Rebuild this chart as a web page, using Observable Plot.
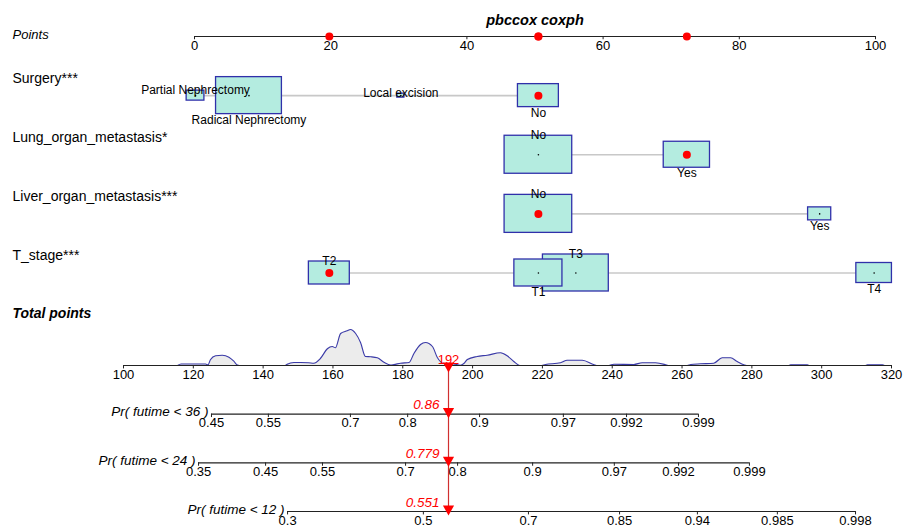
<!DOCTYPE html>
<html><head><meta charset="utf-8">
<script src="https://cdn.jsdelivr.net/npm/d3@7"></script>
<script src="https://cdn.jsdelivr.net/npm/@observablehq/plot@0.6"></script>
<style>
body{margin:0;background:#fff;}
#wrap{position:relative;width:907px;height:527px;overflow:hidden;background:#fff;}
#wrap svg{position:absolute;left:0;top:0;}
</style></head><body><div id="wrap"></div>
<script>
// ---------------- data ----------------
const title = "pbccox coxph";
const pointTicks = [0, 20, 40, 60, 80, 100];
const variables = ["Surgery***", "Lung_organ_metastasis*", "Liver_organ_metastasis***", "T_stage***"];

const surgeryLevels = ["Partial Nephrectomy", "Radical Nephrectomy", "Local excision", "No"];
const surgeryPoints = [0.15, 8.0, 30.3, 50.5];
const surgeryFreq   = [69, 948, 11, 366];

const lungLevels = ["No", "Yes"];
const lungPoints = [50.5, 72.3];
const lungFreq   = [1000, 468];

const liverLevels = ["No", "Yes"];
const liverPoints = [50.5, 91.8];
const liverFreq   = [1000, 117];

const tLevels = ["T1", "T2", "T3", "T4"];
const tPoints = [50.5, 19.8, 56.0, 99.8];
const tFreq   = [505, 366, 948, 277];

const selectedLevels = ["No", "Yes", "No", "T2"];

const totalTicks = [100, 120, 140, 160, 180, 200, 220, 240, 260, 280, 300, 320];
const densityT = [115.5,116.5,123.5,124.2,124.9,126.4,128.3,130.2,131.6,132.6,133.2,
  146.3,146.9,148.8,150.7,153,154.5,156.4,158.4,159.8,160.7,162.2,164.1,165.0,166.5,167.9,169.3,170.8,172.7,174.6,176.5,177.5,179.4,181.8,183.2,185.1,186.5,188.5,189.9,191.8,194.6,196.5,197.5,198.5,201.3,204.2,208.0,209.9,211.8,213.5,
  219.5,220.9,225.2,227.1,231.4,234.8,235.5,
  239,240.5,246.2,248.6,252.4,255.3,256,
  261.5,262.5,265.3,269.1,271.5,273.9,275.8,277.7,278.5,
  290.5,291.1,295.9,296.5,
  312.5,313.1,317.4,318];
const densityH = [0,1.5,1.5,0.7,5.7,9.7,10.3,8.3,4.3,0.5,0,
  0,1.3,3,3,2.8,2.3,7,16.7,19,17.7,32,34.7,36,32,23,9,8.7,7.7,3.3,0.5,1,2.3,3,12,21,23,19,8,2,1.5,0.3,2,6,9,10.3,12.7,9.7,4,0,
  0,1,2.7,5.3,5.3,0.7,0,
  0,1.3,1,2.7,2.7,0.7,0,
  0,1,1.7,2.3,7.7,7.7,4,0.7,0,
  0,0.7,0.7,0,
  0,0.7,0.7,0];

const probLabels = ["Pr( futime < 36 )", "Pr( futime < 24 )", "Pr( futime < 12 )"];
const pr36Labels = ["0.45","0.55","0.7","0.8","0.9","0.97","0.992","0.999"];
const pr36At     = [125.2, 141.5, 165.0, 181.4, 202.0, 226.0, 244.1, 264.7];
const pr24Labels = ["0.35","0.45","0.55","0.7","0.8","0.9","0.97","0.992","0.999"];
const pr24At     = [121.5, 140.7, 157.0, 180.8, 195.7, 217.2, 240.6, 259.0, 279.3];
const pr12Labels = ["0.3","0.5","0.7","0.85","0.94","0.985","0.998"];
const pr12At     = [147.0, 185.9, 216.0, 242.1, 264.4, 287.3, 309.7];

const totalLabel = "192";
const predicted = ["0.86", "0.779", "0.551"];

// ---------------- layout / style ----------------
const W = 907, H = 527;
const FONT = "'Liberation Sans', Arial, Helvetica, sans-serif";
const topX = [194, 875];      // pixel extent of Points axis
const topRows = [36, 272.5];  // pixel y of rows 0..4
const botX = [123, 891];      // pixel extent of Total points axis
const botRows = [365, 511];   // pixel y of rows 0..3
const BOX_FILL = "#b4ece0", BOX_STROKE = "#3030aa";
const RED = "#f00", RED_LINE = "#d03030";

const pxPerPoint = (topX[1] - topX[0]) / 100;
const pxPerRow = (topRows[1] - topRows[0]) / 4;
const boxH = d3.scaleSqrt().domain([0, 1000]).range([0, 38]);
const ASPECT = 1.78;

const vars = [
  {label: variables[0], levels: surgeryLevels, pts: surgeryPoints, freq: surgeryFreq},
  {label: variables[1], levels: lungLevels, pts: lungPoints, freq: lungFreq},
  {label: variables[2], levels: liverLevels, pts: liverPoints, freq: liverFreq},
  {label: variables[3], levels: tLevels, pts: tPoints, freq: tFreq}
];

const boxes = vars.flatMap((v, i) => {
  const row = i + 1;
  const order = d3.sort(d3.range(v.levels.length), j => v.pts[j]);
  return v.levels.map((lev, j) => {
    const h = boxH(v.freq[j]);
    const hw = h * ASPECT / 2 / pxPerPoint, hh = h / 2 / pxPerRow;
    return {row, level: lev, pts: v.pts[j], freq: v.freq[j],
      x1: v.pts[j] - hw, x2: v.pts[j] + hw, y1: row - hh, y2: row + hh,
      above: order.indexOf(j) % 2 === 0, sel: lev === selectedLevels[i]};
  });
}).sort((a, b) => b.freq - a.freq);
const spans = vars.map((v, i) => ({row: i + 1, x1: d3.min(v.pts), x2: d3.max(v.pts)}));
const selectedPts = boxes.filter(d => d.sel).map(d => d.pts);
const totalScore = d3.sum(selectedPts);

// ---------- top plot: points + variables ----------
const p1 = Plot.plot({
  width: W, height: H,
  marginLeft: topX[0], marginRight: W - topX[1], marginTop: 20, marginBottom: 0,
  x: {domain: [0, 100], axis: null},
  y: {domain: [0, 4], range: topRows, axis: null},
  style: `font-family:${FONT};background:white;overflow:visible;color:black;`,
  marks: [
    Plot.text([title], {frameAnchor: "top", lineAnchor: "middle", fontWeight: "bold", fontStyle: "italic", fontSize: 14.5}),
    Plot.text(["Points"], {frameAnchor: "left", y: 0, dx: 12 - topX[0], dy: -2, textAnchor: "start", fontStyle: "italic", fontSize: 13}),
    Plot.text(vars, {frameAnchor: "left", y: (d, i) => i + 1, text: "label", dx: 12 - topX[0], dy: -17, textAnchor: "start", fontSize: 14}),
    Plot.ruleY([0], {x1: 0, x2: 100, stroke: "#222", strokeWidth: 1.2}),
    Plot.ruleX(pointTicks, {x: d => d, y1: 0, y2: 0.055, stroke: "#222"}),
    Plot.text(pointTicks, {x: d => d, y: 0, dy: 9, fontSize: 13}),
    Plot.dot(selectedPts, {x: d => d, y: 0, r: 4, fill: RED}),
    Plot.ruleY(spans, {y: "row", x1: "x1", x2: "x2", stroke: "#c8c8c8", strokeWidth: 1.6}),
    Plot.rect(boxes, {x1: "x1", x2: "x2", y1: "y1", y2: "y2", fill: BOX_FILL, stroke: BOX_STROKE, strokeWidth: 1.3}),
    Plot.dot(boxes.filter(d => !d.sel), {x: "pts", y: "row", r: 0.8, fill: "black"}),
    Plot.dot(boxes.filter(d => d.sel), {x: "pts", y: "row", r: 4, fill: RED}),
    Plot.text(boxes.filter(d => d.above), {x: "pts", y: "y1", text: "level", lineAnchor: "bottom", dy: 3, fontSize: 12}),
    Plot.text(boxes.filter(d => !d.above), {x: "pts", y: "y2", text: "level", lineAnchor: "top", dy: 1, fontSize: 12})
  ]
});

// ---------- bottom plot: total points + probabilities ----------
const dens = densityT.map((t, i) => ({t, h: densityH[i]}));
const hMax = d3.max(densityH);
const DENS_ROWS = 0.74;
const prAxes = [pr36At, pr24At, pr12At].map((at, i) => ({row: i + 1, x1: d3.min(at), x2: d3.max(at), label: probLabels[i]}));
const prTicks = [[pr36Labels, pr36At], [pr24Labels, pr24At], [pr12Labels, pr12At]]
  .flatMap(([labs, at], i) => labs.map((l, j) => ({row: i + 1, x: at[j], label: l})));
const triDown = {
  draw(ctx, size) {
    const s = Math.sqrt(size), w = s * 1.5, h = s * 1.35;
    ctx.moveTo(0, 0); ctx.lineTo(-w / 2, -h); ctx.lineTo(w / 2, -h); ctx.closePath();
  }
};
const markers = [0, 1, 2, 3].map(r => ({row: r}));

const p2 = Plot.plot({
  width: W, height: H,
  marginLeft: botX[0], marginRight: W - botX[1], marginTop: 0, marginBottom: 0,
  x: {domain: [100, 320], axis: null},
  y: {domain: [0, 3], range: botRows, axis: null},
  style: `font-family:${FONT};background:transparent;overflow:visible;color:black;`,
  marks: [
    Plot.text(["Total points"], {frameAnchor: "left", y: -1, dx: 12 - botX[0], dy: -3, textAnchor: "start", fontWeight: "bold", fontStyle: "italic", fontSize: 14}),
    Plot.areaY(dens, {x: "t", y1: 0, y2: d => -d.h / hMax * DENS_ROWS, fill: "#ececec", curve: "monotone-x"}),
    Plot.line(dens, {x: "t", y: d => -d.h / hMax * DENS_ROWS, stroke: "#3a3aa8", strokeWidth: 1.1, curve: "monotone-x"}),
    Plot.ruleY([0], {x1: 100, x2: 320, stroke: "#222", strokeWidth: 1.2}),
    Plot.ruleX(totalTicks, {x: d => d, y1: 0, y2: 0.07, stroke: "#222"}),
    Plot.text(totalTicks, {x: d => d, y: 0, dy: 9, fontSize: 13}),
    Plot.ruleY(prAxes, {y: "row", x1: "x1", x2: "x2", stroke: "#222", strokeWidth: 1.1}),
    Plot.ruleX(prTicks, {x: "x", y1: "row", y2: d => d.row + 0.07, stroke: "#222"}),
    Plot.text(prTicks, {x: "x", y: "row", text: "label", dy: 9, fontSize: 13}),
    Plot.text(prAxes, {x: "x1", y: "row", text: "label", textAnchor: "end", dx: -3, dy: -2, fontStyle: "italic", fontSize: 13.5}),
    Plot.ruleX([totalScore], {x: d => d, y1: 0, y2: 3, stroke: RED_LINE, strokeWidth: 1.2}),
    Plot.dot(markers.slice(1), {x: () => totalScore, y: "row", symbol: triDown, r: 4.2, fill: RED, stroke: "none", dy: 4}),
    Plot.dot(markers.slice(0, 1), {x: () => totalScore, y: "row", symbol: triDown, r: 4.2, fill: RED, stroke: "none", dy: 7}),
    Plot.text([totalLabel], {x: () => totalScore, y: 0, dy: -6, fill: RED, fontSize: 13}),
    Plot.text(predicted, {x: () => totalScore, y: (d, i) => i + 1, textAnchor: "end", dx: -9, dy: -9, fill: RED, fontStyle: "italic", fontSize: 13.5})
  ]
});

const wrap = document.getElementById("wrap");
wrap.append(p1, p2);
</script>
</body></html>
